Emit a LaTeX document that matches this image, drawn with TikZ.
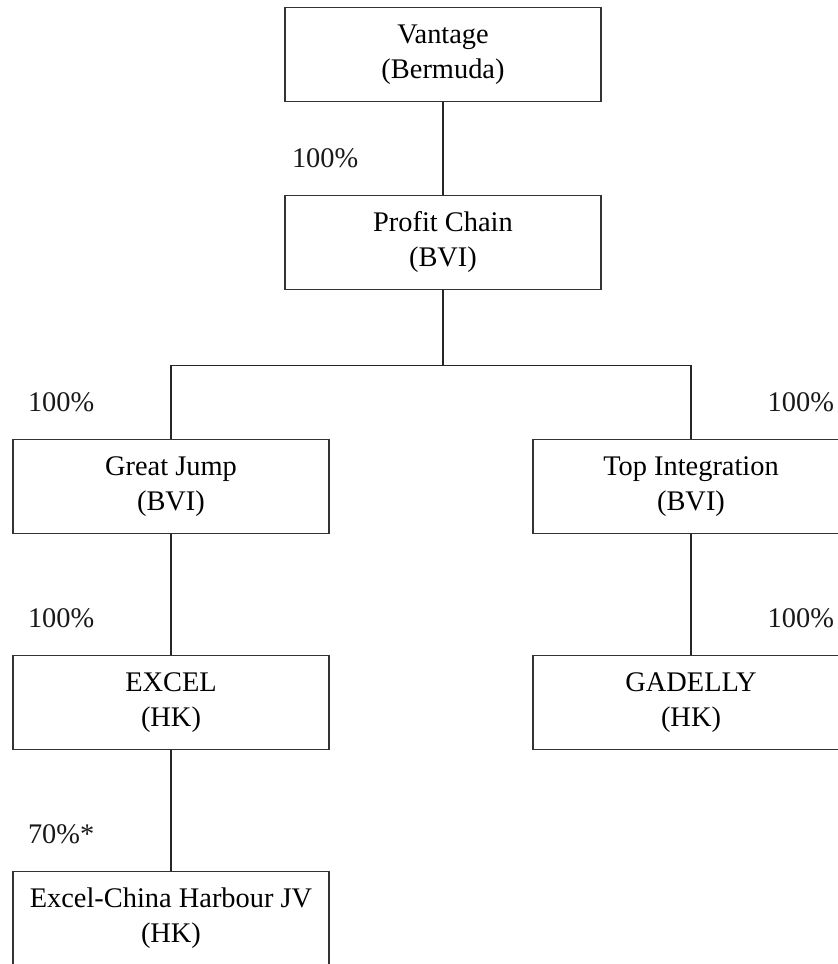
\documentclass[tikz,border=0pt]{standalone}
\usepackage{fontspec}
\setmainfont{Liberation Serif}
\usetikzlibrary{positioning}
\tikzstyle{company} = [rectangle, minimum width=158pt, minimum height=47pt, text centered, align=center, draw=black!80, line width=0.8pt, fill=white, font=\fontsize{14.2}{17.5}\selectfont]
\tikzstyle{link}    = [draw=black!85, line width=0.7pt]
\tikzstyle{pct}     = [inner sep=0pt, text=black!90, font=\fontsize{14.2}{16}\selectfont]

\begin{document}
\begin{tikzpicture}[node distance=108pt] % holding chain, top to bottom
            \useasboundingbox (0,0) rectangle (418.5pt,-482pt);
            % 1. ultimate holding company
            \node (vantage) [company] at (221.5pt,-27.25pt) {Vantage\\(Bermuda)};
            % 2. intermediate holding
            \node (profit) [company, below of=vantage, yshift=14pt] {Profit Chain\\(BVI)};
            % 3. the two BVI subsidiaries
            \node (jump) [company, below of=profit, xshift=-136pt, yshift=-14pt] {Great Jump\\(BVI)};
            \node (topint) [company, below of=profit, xshift=124pt, yshift=-14pt] {Top Integration\\(BVI)};
            % 4. Hong Kong companies
            \node (excel) [company, below of=jump] {EXCEL\\(HK)};
            \node (gadelly) [company, below of=topint] {GADELLY\\(HK)};
            % 5. joint venture
            \node (jv) [company, below of=excel] {Excel-China Harbour JV\\(HK)};

            % ownership lines
            \draw [link] (vantage) -- (profit) node[pos=0.6, pct, left=42pt] {100\%};
            \draw [link] (profit.south) -- ++(0,-37.5pt) coordinate (split);
            \draw [link] (split) -| (jump.north) node[pos=0.75, pct, left=38pt] {100\%};
            \draw [link] (split) -| (topint.north) node[pos=0.75, pct, right=38pt] {100\%};
            \draw [link] (jump) -- (excel) node[pos=0.7, pct, left=38pt] {100\%};
            \draw [link] (topint) -- (gadelly) node[pos=0.7, pct, right=38pt] {100\%};
            \draw [link] (excel) -- (jv) node[pos=0.7, pct, left=38pt] {70\%*};

        \end{tikzpicture}
\end{document}
